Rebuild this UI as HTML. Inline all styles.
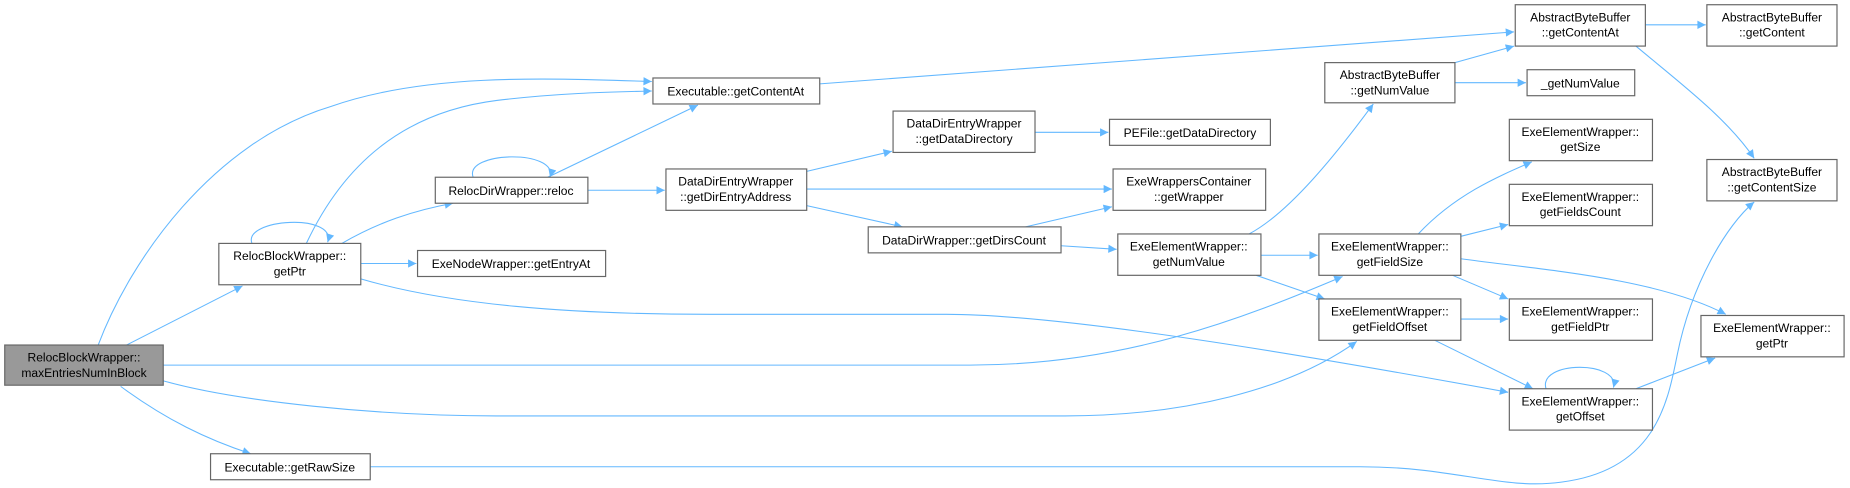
<!DOCTYPE html>
<html><head><meta charset="utf-8"><style>
html,body{margin:0;padding:0;background:#fff;}
svg{display:block;}
text{font-family:"Liberation Sans",Arial,sans-serif;font-size:10.2px;fill:#000;text-anchor:middle;}
.n{fill:#fff;stroke:#666;stroke-width:1;}
.e{fill:none;stroke:#63b8ff;stroke-width:0.9;}
</style></head><body>
<svg width="1850" height="488" viewBox="0 0 1564 413" preserveAspectRatio="none" xmlns="http://www.w3.org/2000/svg">
<defs><marker id="a" viewBox="0 0 10 10" refX="10" refY="5" markerWidth="9" markerHeight="7" markerUnits="userSpaceOnUse" orient="auto"><path d="M0,0L10,5L0,10z" fill="#63b8ff"/></marker></defs>
<g class="e" marker-end="url(#a)">
<path d="M83,292 C110,220 180,120 280,90 C360,62 460,66 551,69"/>
<path d="M107,292 L205,242"/>
<path d="M137,309 L820,309 C950,309 1050,270 1135,234"/>
<path d="M137,322 C200,340 320,352 420,352 L900,352 C1000,352 1090,330 1147,289"/>
<path d="M102,327 C140,355 175,372 212,384"/>
<path d="M213,206 C205,185 285,180 277,205"/>
<path d="M259,206 C290,140 340,95 420,85 C470,79 510,78 551,77"/>
<path d="M289,206 C320,188 350,178 383,172"/>
<path d="M305,223 L352,223"/>
<path d="M305,236 C380,258 480,266 600,266 L800,266 C900,266 1100,300 1275,332"/>
<path d="M400,150 C392,128 472,126 465,150"/>
<path d="M463,150 L590,89"/>
<path d="M497,161 L562,161"/>
<path d="M313,395 L1150,395 C1230,395 1270,415 1320,408 C1400,398 1410,340 1418,300 C1430,240 1460,190 1483,171"/>
<path d="M693,71 L1280,27"/>
<path d="M682,145 L754,128"/>
<path d="M682,160 L940,160"/>
<path d="M682,174 L763,192"/>
<path d="M875,112 L937,112"/>
<path d="M867,192 L940,175"/>
<path d="M897,208 L944,211"/>
<path d="M1056,198 C1090,180 1130,130 1161,88"/>
<path d="M1066,216 L1114,216"/>
<path d="M1062,233 L1120,253"/>
<path d="M1230,53 L1280,39"/>
<path d="M1230,70 L1290,70"/>
<path d="M1391,21 L1442,21"/>
<path d="M1383,39 C1420,70 1460,100 1483,134"/>
<path d="M1199,198 C1230,165 1265,150 1295,137"/>
<path d="M1235,200 L1275,190"/>
<path d="M1228,233 L1275,253"/>
<path d="M1235,219 C1300,228 1400,235 1459,266"/>
<path d="M1235,270 L1275,270"/>
<path d="M1213,288 L1296,329"/>
<path d="M1307,329 C1300,305 1370,305 1364,328"/>
<path d="M1383,329 L1450,303"/>
</g>
<rect x="4" y="292" width="134" height="34" fill="#999" stroke="#666"/>
<text x="71" y="306">RelocBlockWrapper::</text><text x="71" y="319">maxEntriesNumInBlock</text>
<rect class="n" x="185" y="206" width="120" height="35"/><text x="245" y="220">RelocBlockWrapper::</text><text x="245" y="233">getPtr</text>
<rect class="n" x="353" y="212" width="159" height="22"/><text x="432" y="227">ExeNodeWrapper::getEntryAt</text>
<rect class="n" x="368" y="150" width="129" height="22"/><text x="432" y="165">RelocDirWrapper::reloc</text>
<rect class="n" x="552" y="66" width="141" height="22"/><text x="622" y="81">Executable::getContentAt</text>
<rect class="n" x="563" y="143" width="119" height="35"/><text x="622" y="157">DataDirEntryWrapper</text><text x="622" y="170">::getDirEntryAddress</text>
<rect class="n" x="178" y="384" width="135" height="22"/><text x="245" y="399">Executable::getRawSize</text>
<rect class="n" x="755" y="94" width="120" height="35"/><text x="815" y="108">DataDirEntryWrapper</text><text x="815" y="121">::getDataDirectory</text>
<rect class="n" x="938" y="101" width="136" height="22"/><text x="1006" y="116">PEFile::getDataDirectory</text>
<rect class="n" x="941" y="143" width="129" height="35"/><text x="1005" y="157">ExeWrappersContainer</text><text x="1005" y="170">::getWrapper</text>
<rect class="n" x="734" y="192" width="163" height="22"/><text x="815" y="207">DataDirWrapper::getDirsCount</text>
<rect class="n" x="945" y="198" width="121" height="35"/><text x="1005" y="212">ExeElementWrapper::</text><text x="1005" y="225">getNumValue</text>
<rect class="n" x="1120" y="53" width="110" height="34"/><text x="1175" y="67">AbstractByteBuffer</text><text x="1175" y="80">::getNumValue</text>
<rect class="n" x="1291" y="59" width="91" height="22"/><text x="1336" y="74">_getNumValue</text>
<rect class="n" x="1281" y="4" width="110" height="35"/><text x="1336" y="18">AbstractByteBuffer</text><text x="1336" y="31">::getContentAt</text>
<rect class="n" x="1443" y="4" width="110" height="35"/><text x="1498" y="18">AbstractByteBuffer</text><text x="1498" y="31">::getContent</text>
<rect class="n" x="1443" y="135" width="110" height="35"/><text x="1498" y="149">AbstractByteBuffer</text><text x="1498" y="162">::getContentSize</text>
<rect class="n" x="1276" y="101" width="121" height="35"/><text x="1336" y="115">ExeElementWrapper::</text><text x="1336" y="128">getSize</text>
<rect class="n" x="1276" y="156" width="121" height="35"/><text x="1336" y="170">ExeElementWrapper::</text><text x="1336" y="183">getFieldsCount</text>
<rect class="n" x="1115" y="198" width="120" height="35"/><text x="1175" y="212">ExeElementWrapper::</text><text x="1175" y="225">getFieldSize</text>
<rect class="n" x="1115" y="253" width="120" height="35"/><text x="1175" y="267">ExeElementWrapper::</text><text x="1175" y="280">getFieldOffset</text>
<rect class="n" x="1276" y="253" width="121" height="35"/><text x="1336" y="267">ExeElementWrapper::</text><text x="1336" y="280">getFieldPtr</text>
<rect class="n" x="1276" y="329" width="121" height="35"/><text x="1336" y="343">ExeElementWrapper::</text><text x="1336" y="356">getOffset</text>
<rect class="n" x="1438" y="267" width="121" height="35"/><text x="1498" y="281">ExeElementWrapper::</text><text x="1498" y="294">getPtr</text>
</svg>
</body></html>
